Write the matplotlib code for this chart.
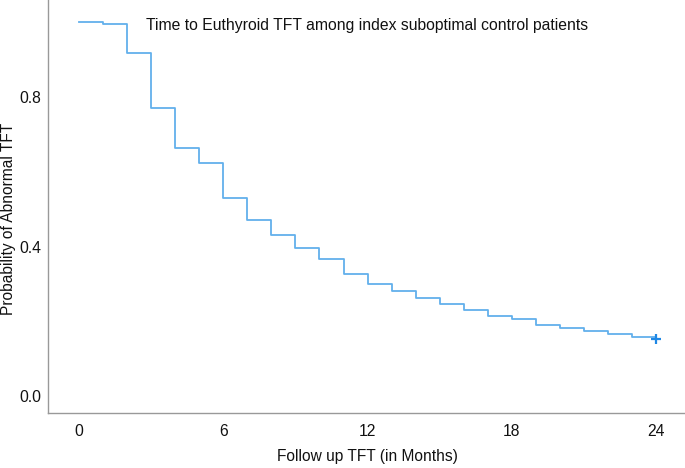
import numpy as np
import matplotlib.pyplot as plt

plt.rcParams['font.family'] = ['Liberation Sans', 'DejaVu Sans']

# Kaplan-Meier estimate (value from each month onward)
months = [0, 1, 2, 3, 4, 5, 6, 7, 8, 9, 10, 11, 12, 13, 14, 15, 16, 17, 18, 19, 20, 21, 22, 23, 24]
surv = [1.0, 0.995, 0.916, 0.771, 0.664, 0.622, 0.530, 0.471, 0.431, 0.396, 0.366, 0.327,
        0.301, 0.282, 0.263, 0.247, 0.231, 0.215, 0.207, 0.190, 0.183, 0.174, 0.167, 0.158, 0.152]
censor_t = [24]
censor_s = [0.152]

title = "Time to Euthyroid TFT among index suboptimal control patients"
xticks = [0, 6, 12, 18, 24]
yticks = [0.0, 0.4, 0.8]

fig = plt.figure(figsize=(6.85, 4.68), dpi=100)
ax = fig.add_axes([0.070, 0.1175, 0.930, 0.8825])

ax.step(months, surv, where='post', color='#62B0EC', lw=1.3)
ax.plot(censor_t, censor_s, marker='+', ls='none', color='#1E88E5', ms=7, mew=1.6)

ax.set_xlim(-1.29, 25.2)
ax.set_ylim(-0.045, 1.059)
ax.set_xticks(xticks)
ax.set_yticks(yticks)
ax.set_yticklabels(['%.1f' % v for v in yticks])
ax.tick_params(length=0, labelsize=11.3, colors='#111111')
ax.tick_params(axis='x', pad=8)
ax.tick_params(axis='y', pad=5)

for s in ['top', 'right']:
    ax.spines[s].set_visible(False)
for s in ['left', 'bottom']:
    ax.spines[s].set_color('#999999')
    ax.spines[s].set_linewidth(1.0)

ax.text(2.8, 0.99, title, fontsize=11.3, color='#111111', va='center', ha='left')

fig.text(367 / 685, 1 - 457 / 468, 'Follow up TFT (in Months)', fontsize=11.2,
         color='#111111', ha='center', va='center')
fig.text(9 / 685, 0.532, 'Probability of Abnormal TFT', fontsize=11.2, color='#111111',
         rotation=90, ha='center', va='center')

fig.savefig('out.png', dpi=100)
